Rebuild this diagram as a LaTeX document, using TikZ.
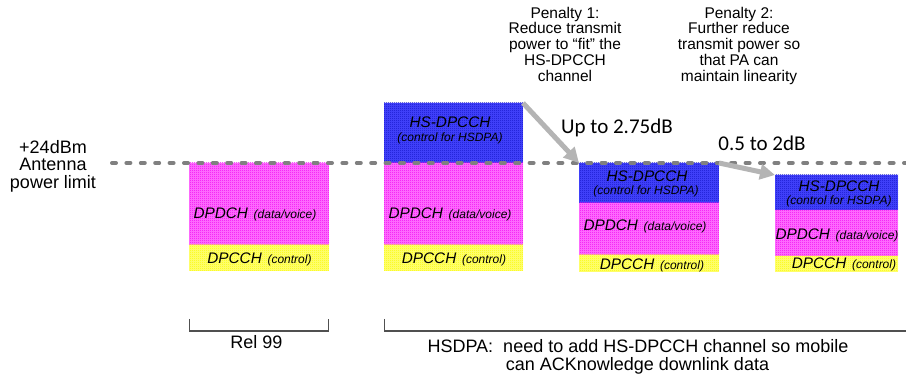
\documentclass[tikz,border=0pt]{standalone}
\usepackage{fontspec}
\setmainfont{Liberation Sans}
\newfontfamily\calib{Carlito}
\usetikzlibrary{arrows.meta,patterns.meta}
\tikzdeclarepattern{
  name=chk,
  type=uncolored,
  bounding box={(0pt,0pt) and (2pt,2pt)},
  tile size={(2pt,2pt)},
  code={
    \pgfpathrectangle{\pgfpoint{0pt}{0pt}}{\pgfpoint{1pt}{1pt}}
    \pgfpathrectangle{\pgfpoint{1pt}{1pt}}{\pgfpoint{1pt}{1pt}}
    \pgfusepath{fill}
  }
}
\definecolor{magA}{RGB}{240,0,240}
\definecolor{magB}{RGB}{255,120,255}
\definecolor{bluA}{RGB}{20,20,200}
\definecolor{bluB}{RGB}{70,70,255}
\definecolor{yelA}{RGB}{250,250,0}
\definecolor{yelB}{RGB}{255,255,120}
\definecolor{dashgray}{RGB}{128,128,128}
\definecolor{arrgray}{RGB}{180,180,180}
\definecolor{brkgray}{RGB}{80,80,80}
\newcommand\subtxt[1]{{\fontsize{12}{13}\selectfont #1}}
\begin{document}
\begin{tikzpicture}[x=1pt,y=-1pt,
  layer/.style={rectangle, inner sep=0pt, outer sep=0pt, anchor=north west, draw=none},
  magl/.style={layer, preaction={fill=magB}, pattern=chk, pattern color=magA},
  blul/.style={layer, preaction={fill=bluB}, pattern=chk, pattern color=bluA},
  yell/.style={layer, preaction={fill=yelB}, pattern=chk, pattern color=yelA},
  chlab/.style={font=\fontsize{15.3}{16}\selectfont\itshape, inner sep=0pt, anchor=base},
  ctllab/.style={font=\fontsize{12}{13}\selectfont\itshape, inner sep=0pt, anchor=base},
  bigtxt/.style={font=\fontsize{18}{19}\selectfont, inner sep=0pt, anchor=base},
  pentxt/.style={font=\fontsize{15.5}{16}\selectfont, inner sep=0pt, anchor=base},
  dbtxt/.style={font=\calib\fontsize{21}{22}\selectfont, inner sep=0pt, anchor=base},
  dashline/.style={draw=dashgray, line width=4pt, line cap=round, dash pattern=on 4pt off 10.4pt},
  parrow/.style={draw=arrgray, line width=5pt, -{Triangle[length=15pt,width=15pt]}},
  brk/.style={draw=brkgray, line width=1.2pt}
]
\useasboundingbox (0,0) rectangle (906,379);

% Box 1 (Rel 99)
\node[magl, minimum width=140pt, minimum height=82pt] (b1d) at (189,163) {};
\node[yell, minimum width=140pt, minimum height=26pt] (b1c) at (189,245) {};
% Box 2
\node[blul, minimum width=139pt, minimum height=60pt] (b2h) at (384,103) {};
\node[magl, minimum width=139pt, minimum height=82pt] (b2d) at (384,163) {};
\node[yell, minimum width=139pt, minimum height=26pt] (b2c) at (384,245) {};
% Box 3
\node[blul, minimum width=140pt, minimum height=40pt] (b3h) at (579,163) {};
\node[magl, minimum width=140pt, minimum height=52pt] (b3d) at (579,203) {};
\node[yell, minimum width=140pt, minimum height=17pt] (b3c) at (579,255) {};
% Box 4
\node[blul, minimum width=123pt, minimum height=35pt] (b4h) at (775,175) {};
\node[magl, minimum width=123pt, minimum height=46pt] (b4d) at (775,210) {};
\node[yell, minimum width=123pt, minimum height=16pt] (b4c) at (775,256) {};

% Box labels
\node[chlab] (t1d) at (255,218.3) {DPDCH\hspace{1.5pt} \subtxt{(data/voice)}};
\node[chlab] (t1c) at (259.5,264) {DPCCH\hspace{1.5pt} \subtxt{(control)}};

\node[chlab] (t2h) at (450,127.5) {HS-DPCCH};
\node[ctllab] (t2hc) at (450,141.5) {(control for HSDPA)};
\node[chlab] (t2d) at (450,218.3) {DPDCH\hspace{1.5pt} \subtxt{(data/voice)}};
\node[chlab] (t2c) at (454,264) {DPCCH\hspace{1.5pt} \subtxt{(control)}};

\node[chlab] (t3h) at (647,181.7) {HS-DPCCH};
\node[ctllab] (t3hc) at (646,195) {(control for HSDPA)};
\node[chlab] (t3d) at (645,230.7) {DPDCH\hspace{1.5pt} \subtxt{(data/voice)}};
\node[chlab] (t3c) at (652,269.3) {DPCCH\hspace{1.5pt} \subtxt{(control)}};

\node[chlab] (t4h) at (839,191.7) {HS-DPCCH};
\node[ctllab] (t4hc) at (839,205) {(control for HSDPA)};
\node[chlab] (t4d) at (837,239.3) {DPDCH\hspace{1.5pt} \subtxt{(data/voice)}};
\node[chlab] (t4c) at (844,268.3) {DPCCH\hspace{1.5pt} \subtxt{(control)}};

% Power limit dashed line
\coordinate (dl) at (112,163);
\coordinate (dr) at (908,163);
\draw[dashline] (dl) -- (dr);

% Left label
\node[bigtxt] (pl1) at (53,153.3) {+24dBm};
\node[bigtxt] (pl2) at (53,171) {Antenna};
\node[bigtxt] (pl3) at (53,189) {power limit};

% Penalty texts
\node[pentxt] (p1a) at (565,18.3) {Penalty 1:};
\node[pentxt] (p1b) at (565,34) {Reduce transmit};
\node[pentxt] (p1c) at (565,49.7) {power to “fit” the};
\node[pentxt] (p1d) at (565,65.4) {HS-DPCCH};
\node[pentxt] (p1e) at (565,81.1) {channel};

\node[pentxt] (p2a) at (739,18.3) {Penalty 2:};
\node[pentxt] (p2b) at (739,34) {Further reduce};
\node[pentxt] (p2c) at (739,49.7) {transmit power so};
\node[pentxt] (p2d) at (739,65.4) {that PA can};
\node[pentxt] (p2e) at (739,81.1) {maintain linearity};

% Penalty arrows
\draw[parrow] (b2h.north east) -- (b3h.north west);
\draw[parrow] (b3h.north east) -- (b4h.north west);
\node[dbtxt] (db1) at (617,133.3) {Up to 2.75dB};
\node[dbtxt] (db2) at (762,150.3) {0.5 to 2dB};

% Brackets
\coordinate (r1a) at (189.6,319);
\coordinate (r1b) at (328.4,331);
\coordinate (r1c) at (328.4,319);
\draw[brk] (r1a) |- (r1b) -- (r1c);
\coordinate (r2a) at (384.6,319);
\coordinate (r2b) at (910,331);
\draw[brk] (r2a) |- (r2b);

\node[bigtxt] (rel) at (256.5,349) {Rel 99};
\node[bigtxt] (hs1) at (638,352.3) {HSDPA:\ \ need to add HS-DPCCH channel so mobile};
\node[bigtxt] (hs2) at (637.5,371) {can ACKnowledge downlink data};
\end{tikzpicture}
\end{document}
